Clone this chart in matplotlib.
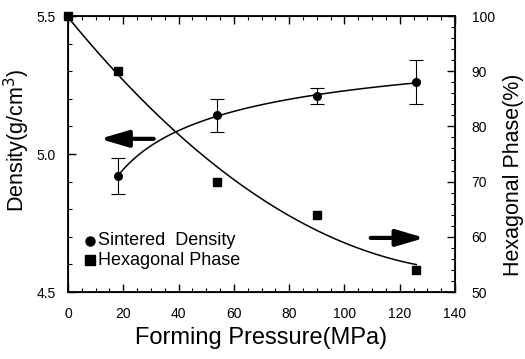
import matplotlib.pyplot as plt
import numpy as np
from matplotlib.ticker import MultipleLocator

plt.rcParams['font.family'] = ['Liberation Sans', 'DejaVu Sans']

# sintered density (left axis)
press_d = [18, 54, 90, 126]
density = [4.92, 5.14, 5.21, 5.26]
dens_err = [0.065, 0.06, 0.03, 0.08]

# hexagonal phase (right axis)
press_h = [0, 18, 54, 90, 126]
hexa = [100, 90, 70, 64, 54]

fig = plt.figure(figsize=(5.25, 3.59), dpi=100)
ax = fig.add_axes([0.1295, 0.1866, 0.7372, 0.7688])
ax2 = ax.twinx()

# fitted curves, as in the original figure (log fit for density)
xd = np.linspace(min(press_d), max(press_d), 100)
cd = np.polyfit(np.log(press_d), density, 2)
ax.plot(xd, np.polyval(cd, np.log(xd)), color='black', lw=1.1)
ax.errorbar(press_d, density, yerr=dens_err, fmt='o', color='black', ms=5.5,
            elinewidth=0.8, capsize=5, capthick=0.8)

xh = np.linspace(min(press_h), max(press_h), 100)
ch = np.polyfit(press_h, hexa, 2)
ax2.plot(xh, np.polyval(ch, xh), color='black', lw=1.1)
ax2.plot(press_h, hexa, 's', color='black', ms=5.5, clip_on=False)

ax.set_xlim(0, 140)
ax.set_ylim(4.5, 5.5)
ax2.set_ylim(50, 100)

ax.xaxis.set_major_locator(MultipleLocator(20))
ax.xaxis.set_minor_locator(MultipleLocator(5))
ax.yaxis.set_major_locator(MultipleLocator(0.5))
ax.yaxis.set_minor_locator(MultipleLocator(0.1))
ax2.yaxis.set_major_locator(MultipleLocator(10))
ax2.yaxis.set_minor_locator(MultipleLocator(2))
ax.set_yticklabels([], minor=True)

ax.tick_params(axis='x', which='both', direction='in', top=True, labelsize=10, pad=11)
ax.tick_params(axis='y', which='both', direction='in', labelsize=10, pad=9)
ax.tick_params(which='major', length=6, width=1)
ax.tick_params(which='minor', length=3, width=0.8)
ax2.tick_params(which='both', direction='in', labelsize=10, pad=12)
ax2.tick_params(which='major', length=6, width=1)
ax2.tick_params(which='minor', length=3, width=0.8)
ax.yaxis.set_major_formatter(plt.FuncFormatter(lambda v, p: f'{v:.1f}'))

for sp in ax.spines.values():
    sp.set_linewidth(1.3)

ax.set_xlabel('Forming Pressure(MPa)', fontsize=17, labelpad=4)
ax.set_ylabel('Density(g/cm$^3$)', fontsize=15.5)
ax2.set_ylabel('Hexagonal Phase(%)', fontsize=15.5)
ax.yaxis.set_label_coords(-0.092, 0.551)
ax2.yaxis.set_label_coords(1.125, 0.424)

# direction arrows
arrow = dict(arrowstyle='-|>,head_length=1.7,head_width=0.5', color='black',
             lw=3, shrinkA=0, shrinkB=0)
ax.annotate('', xy=(11.5, 5.055), xytext=(31, 5.055), arrowprops=arrow)
ax2.annotate('', xy=(129, 59.8), xytext=(109.5, 59.8), arrowprops=arrow)

# legend
ax.plot([8], [4.685], 'o', color='black', ms=6.5)
ax.plot([8], [4.615], 's', color='black', ms=6.5)
ax.text(11, 4.685, 'Sintered  Density', fontsize=13, va='center')
ax.text(11, 4.615, 'Hexagonal Phase', fontsize=13, va='center')

fig.savefig('out.png', dpi=100)
